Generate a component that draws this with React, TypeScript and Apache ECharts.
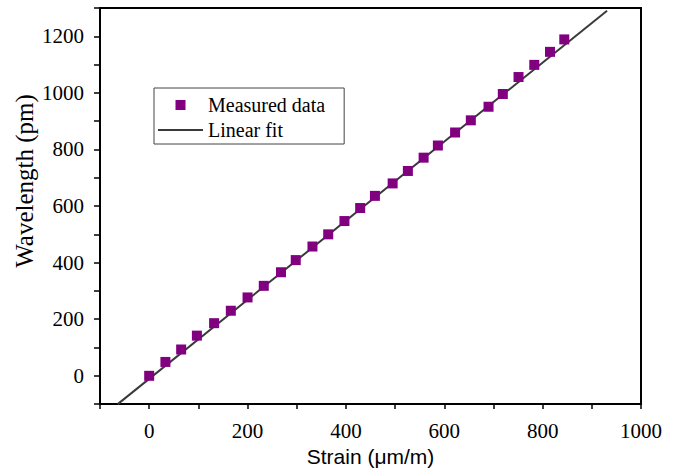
import React, { useEffect, useRef } from "react";
import * as echarts from "echarts";

const strain = [0, 33, 65, 97, 132, 166, 200, 233, 268, 298, 332, 364, 397, 429, 459, 495, 526, 558, 587, 622, 654, 690, 719, 751, 783, 815, 844];
const wavelength = [0, 49, 93, 142, 186, 230, 277, 318, 366, 409, 457, 500, 547, 593, 636, 680, 724, 771, 814, 860, 903, 951, 996, 1056, 1099, 1145, 1189];
const fitLineX = [-64, 931];
const fitLineY = [-100, 1290];
const seriesNames = ["Measured data", "Linear fit"];
const xTitle = "Strain (μm/m)";
const yTitle = "Wavelength (pm)";

const SERIF = "Liberation Serif";
const SANS = "Liberation Sans";

export default function App() {
  const ref = useRef<HTMLDivElement>(null);
  useEffect(() => {
    if (!ref.current) return;
    const chart = echarts.init(ref.current, null, { renderer: "svg" });
    const labelFmt = (v: number) => (v % 200 === 0 ? String(v) : "");
    chart.setOption({
      animation: false,
      backgroundColor: "#ffffff",
      textStyle: { fontFamily: SERIF },
      grid: {
        left: 100,
        right: 37,
        top: 8,
        bottom: 64,
        show: true,
        borderColor: "#000",
        borderWidth: 2,
        backgroundColor: "transparent",
      },
      legend: {
        left: 154,
        top: 88,
        orient: "vertical",
        backgroundColor: "#fff",
        borderColor: "#444",
        borderWidth: 1,
        padding: [7, 19, 4, 4],
        itemGap: 5,
        itemWidth: 45,
        itemHeight: 10,
        symbolKeepAspect: true,
        textStyle: { fontFamily: SERIF, fontSize: 20, color: "#000", lineHeight: 20 },
        data: [
          { name: seriesNames[0], icon: "path://M0,0h10v10h-10z" },
          { name: seriesNames[1], icon: "path://M0,0h45v2h-45z" },
        ],
      },
      xAxis: {
        type: "value",
        min: -100,
        max: 1000,
        interval: 100,
        name: xTitle,
        nameLocation: "middle",
        nameGap: 37,
        nameTextStyle: { fontFamily: SANS, fontSize: 21, color: "#000" },
        axisLine: { show: true, onZero: false, lineStyle: { color: "#000", width: 2 } },
        axisTick: { show: true, inside: false, length: 5, lineStyle: { color: "#000", width: 1.5 } },
        axisLabel: { formatter: labelFmt, fontFamily: SERIF, fontSize: 21, color: "#000", margin: 16 },
        splitLine: { show: false },
      },
      yAxis: {
        type: "value",
        min: -100,
        max: 1300,
        interval: 100,
        axisLine: { show: true, onZero: false, lineStyle: { color: "#000", width: 2 } },
        axisTick: { show: true, inside: false, length: 6, lineStyle: { color: "#000", width: 1.5 } },
        axisLabel: { formatter: labelFmt, fontFamily: SERIF, fontSize: 21, color: "#000", margin: 16 },
        splitLine: { show: false },
      },
      graphic: [
        {
          type: "text",
          x: 24,
          y: 181,
          rotation: Math.PI / 2,
          style: {
            text: yTitle,
            fontFamily: SERIF,
            fontSize: 25,
            fill: "#000",
            align: "center",
            verticalAlign: "middle",
          },
        },
      ],
      series: [
        {
          name: seriesNames[1],
          type: "line",
          data: fitLineX.map((x, i) => [x, fitLineY[i]]),
          symbol: "none",
          showSymbol: false,
          lineStyle: { color: "#3a3a3a", width: 2 },
          itemStyle: { color: "#3a3a3a" },
          z: 2,
        },
        {
          name: seriesNames[0],
          type: "scatter",
          data: strain.map((x, i) => [x, wavelength[i]]),
          symbol: "rect",
          symbolSize: 10,
          itemStyle: { color: "#800080", opacity: 1 },
          z: 3,
        },
      ],
    });
    return () => chart.dispose();
  }, []);
  return <div ref={ref} style={{ width: 678, height: 472, position: "absolute", left: 0, top: 0 }} />;
}
